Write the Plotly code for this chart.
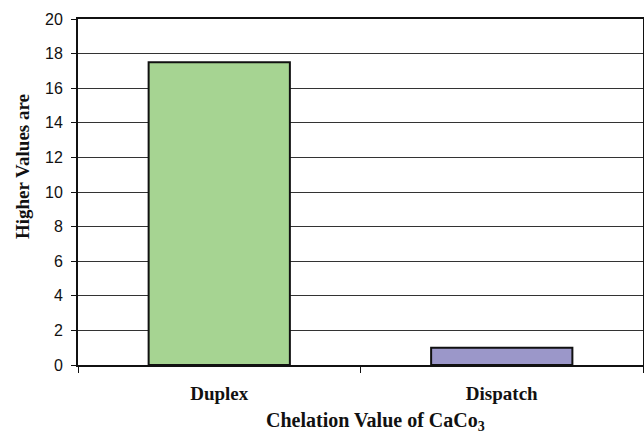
import plotly.graph_objects as go

categories = ["Duplex", "Dispatch"]
values = [17.5, 1.0]
colors = ["#a6d492", "#9b97c9"]
y_ticks = [0, 2, 4, 6, 8, 10, 12, 14, 16, 18, 20]

fig = go.Figure(go.Bar(
    x=categories, y=values, width=0.5,
    marker=dict(color=colors, line=dict(color="#111111", width=2)),
))

serif = "Liberation Serif, Times New Roman, serif"

fig.update_layout(
    width=644, height=436,
    margin=dict(l=78, r=1, t=19, b=71),
    paper_bgcolor="white", plot_bgcolor="white",
    showlegend=False,
    annotations=[
        dict(text="<b>Higher Values are</b>", xref="paper", yref="paper",
             x=-78/565 + 22/565, y=(365-167)/346, textangle=-90, showarrow=False,
             xanchor="center", yanchor="middle",
             font=dict(family=serif, size=19, color="#111111")),
        dict(text="<b>Chelation Value of CaCo<sub>3</sub></b>", xref="paper", yref="paper",
             x=(375-78)/565, y=-(421-365)/346, showarrow=False,
             xanchor="center", yanchor="middle",
             font=dict(family=serif, size=20, color="#111111")),
    ],
)
fig.update_yaxes(
    range=[0, 20], tickvals=y_ticks, automargin=False,
    showgrid=True, gridcolor="#333333", gridwidth=1,
    showline=True, linecolor="#111111", linewidth=2, mirror=True,
    ticks="outside", ticklen=5, tickcolor="#111111", ticklabelstandoff=5,
    tickfont=dict(family="Liberation Sans, Arial", size=16, color="#111111"),
    zeroline=False,
)
fig.update_xaxes(
    automargin=False,
    showline=True, linecolor="#111111", linewidth=2, mirror=True,
    ticks="outside", ticklen=6, tickcolor="#111111", tickson="boundaries",
    ticklabelstandoff=10,
    tickfont=dict(family=serif, size=19, color="#111111"),
    tickvals=categories, ticktext=["<b>" + c + "</b>" for c in categories],
)

fig.write_html("out.html", config={"displayModeBar": False},
               post_script="document.body.style.margin='0';document.body.style.overflow='hidden';")
